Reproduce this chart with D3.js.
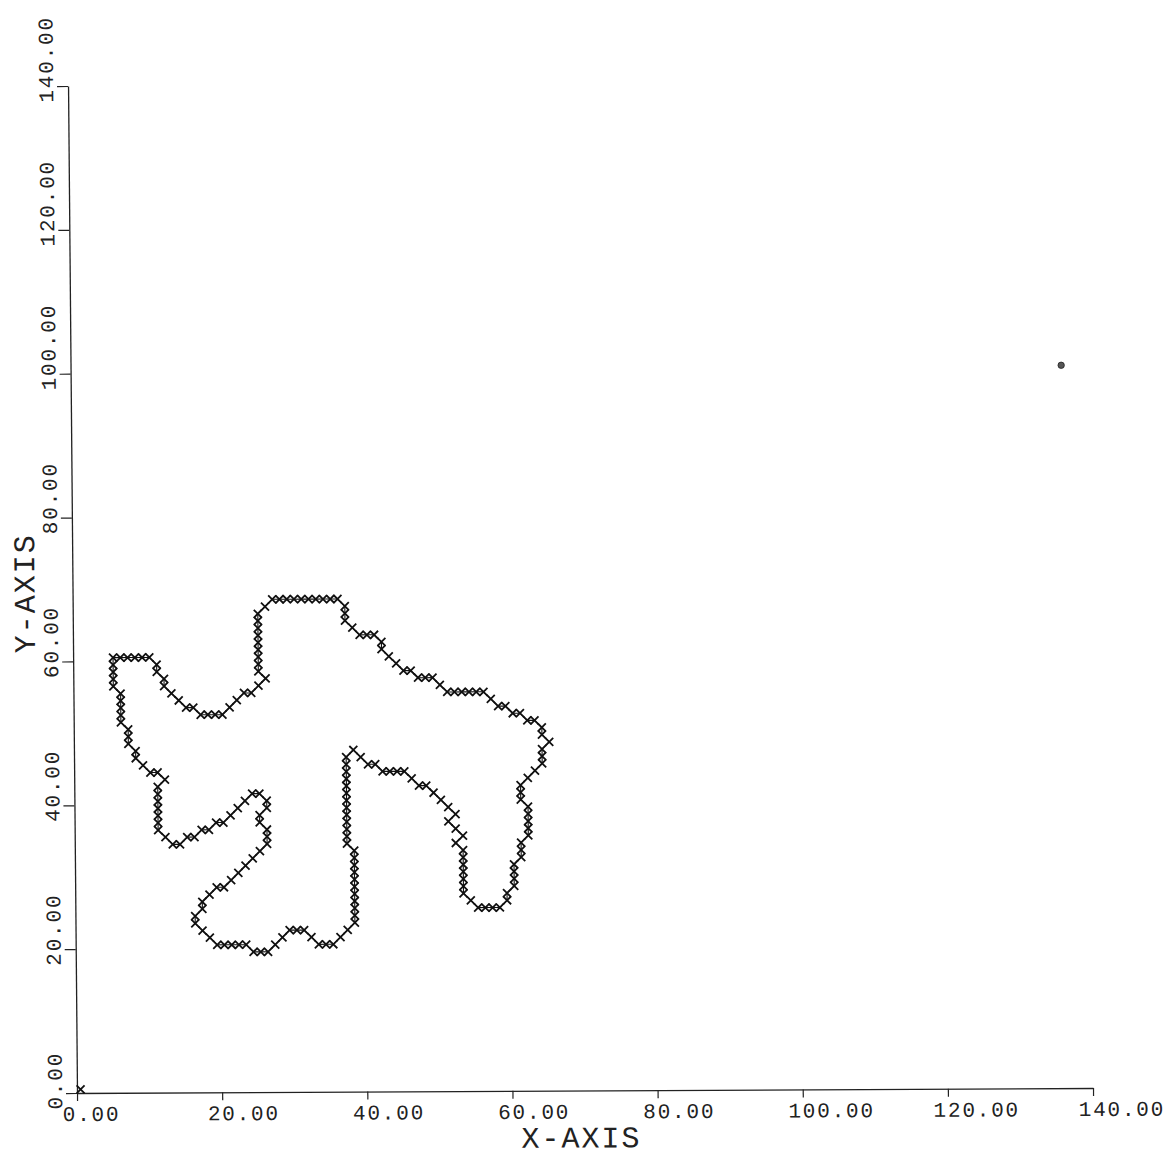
<!DOCTYPE html>
<html>
<head>
<meta charset="utf-8">
<script src="https://cdnjs.cloudflare.com/ajax/libs/d3/7.8.5/d3.min.js"></script>
<style>
  body { margin: 0; background: #fff; }
  svg { display: block; }
</style>
</head>
<body>
<div id="chart"></div>
<script>
// tick values on both axes
const xTicks = [0, 20, 40, 60, 80, 100, 120, 140];
const yTicks = [0, 20, 40, 60, 80, 100, 120, 140];

// traced boundary (cell centres), walked clockwise from the top-left ledge
const outline = [
  [5.5, 60.5], [6.5, 60.5], [7.5, 60.5], [8.5, 60.5], [9.5, 60.5], [10.5, 60.5],
  [11.5, 59.5], [11.5, 58.5], [12.5, 57.5], [12.5, 56.5], [13.5, 55.5], [14.5, 54.5],
  [15.5, 53.5], [16.5, 53.5],
  [17.5, 52.5], [18.5, 52.5], [19.5, 52.5], [20.5, 52.5],
  [21.5, 53.5], [22.5, 54.5], [23.5, 55.5], [24.5, 55.5], [25.5, 56.5], [26.5, 57.5],
  [25.5, 58.5], [25.5, 59.5], [25.5, 60.5], [25.5, 61.5], [25.5, 62.5], [25.5, 63.5],
  [25.5, 64.5], [25.5, 65.5], [25.5, 66.5],
  [26.5, 67.5],
  [27.5, 68.5], [28.5, 68.5], [29.5, 68.5], [30.5, 68.5], [31.5, 68.5], [32.5, 68.5],
  [33.5, 68.5], [34.5, 68.5], [35.5, 68.5], [36.5, 68.5],
  [37.5, 67.5], [37.5, 66.5], [37.5, 65.5], [38.5, 64.5],
  [39.5, 63.5], [40.5, 63.5], [41.5, 63.5],
  [42.5, 62.5], [42.5, 61.5], [43.5, 60.5], [44.5, 59.5], [45.5, 58.5], [46.5, 58.5],
  [47.5, 57.5], [48.5, 57.5], [49.5, 57.5], [50.5, 56.5],
  [51.5, 55.5], [52.5, 55.5], [53.5, 55.5], [54.5, 55.5], [55.5, 55.5], [56.5, 55.5],
  [57.5, 54.5], [58.5, 53.5], [59.5, 53.5], [60.5, 52.5], [61.5, 52.5], [62.5, 51.5], [63.5, 51.5],
  [64.5, 50.5], [64.5, 49.5], [65.5, 48.5], [64.5, 47.5], [64.5, 46.5], [64.5, 45.5],
  [63.5, 44.5], [62.5, 43.5], [61.5, 42.5], [61.5, 41.5], [61.5, 40.5],
  [62.5, 39.5], [62.5, 38.5], [62.5, 37.5], [62.5, 36.5], [62.5, 35.5],
  [61.5, 34.5], [61.5, 33.5], [61.5, 32.5],
  [60.5, 31.5], [60.5, 30.5], [60.5, 29.5], [60.5, 28.5],
  [59.5, 27.5], [59.5, 26.5],
  [58.5, 25.5], [57.5, 25.5], [56.5, 25.5], [55.5, 25.5],
  [54.5, 26.5],
  [53.5, 27.5], [53.5, 28.5], [53.5, 29.5], [53.5, 30.5], [53.5, 31.5], [53.5, 32.5], [53.5, 33.5],
  [52.5, 34.5], [53.5, 35.5], [52.5, 36.5], [51.5, 37.5], [52.5, 38.5], [51.5, 39.5],
  [50.5, 40.5], [49.5, 41.5], [48.5, 42.5], [47.5, 42.5], [46.5, 43.5],
  [45.5, 44.5], [44.5, 44.5], [43.5, 44.5], [42.5, 44.5],
  [41.5, 45.5], [40.5, 45.5], [39.5, 46.5], [38.5, 47.5],
  [37.5, 46.5], [37.5, 45.5], [37.5, 44.5], [37.5, 43.5], [37.5, 42.5], [37.5, 41.5],
  [37.5, 40.5], [37.5, 39.5], [37.5, 38.5], [37.5, 37.5], [37.5, 36.5], [37.5, 35.5], [37.5, 34.5],
  [38.5, 33.5], [38.5, 32.5], [38.5, 31.5], [38.5, 30.5], [38.5, 29.5], [38.5, 28.5],
  [38.5, 27.5], [38.5, 26.5], [38.5, 25.5], [38.5, 24.5], [38.5, 23.5],
  [37.5, 22.5], [36.5, 21.5], [35.5, 20.5], [34.5, 20.5], [33.5, 20.5],
  [32.5, 21.5], [31.5, 22.5], [30.5, 22.5], [29.5, 22.5], [28.5, 21.5], [27.5, 20.5],
  [26.5, 19.5], [25.5, 19.5], [24.5, 19.5],
  [23.5, 20.5], [22.5, 20.5], [21.5, 20.5], [20.5, 20.5], [19.5, 20.5],
  [18.5, 21.5], [17.5, 22.5], [16.5, 23.5], [16.5, 24.5], [17.5, 25.5], [17.5, 26.5], [18.5, 27.5],
  [19.5, 28.5], [20.5, 28.5], [21.5, 29.5], [22.5, 30.5], [23.5, 31.5], [24.5, 32.5], [25.5, 33.5],
  [26.5, 34.5], [26.5, 35.5], [26.5, 36.5], [25.5, 37.5], [25.5, 38.5], [26.5, 39.5], [26.5, 40.5],
  [25.5, 41.5], [24.5, 41.5],
  [23.5, 40.5], [22.5, 39.5], [21.5, 38.5], [20.5, 37.5], [19.5, 37.5], [18.5, 36.5],
  [17.5, 36.5], [16.5, 35.5], [15.5, 35.5], [14.5, 34.5], [13.5, 34.5],
  [12.5, 35.5],
  [11.5, 36.5], [11.5, 37.5], [11.5, 38.5], [11.5, 39.5], [11.5, 40.5], [11.5, 41.5], [11.5, 42.5],
  [12.5, 43.5], [11.5, 44.5], [10.5, 44.5], [9.5, 45.5], [8.5, 46.5], [8.5, 47.5],
  [7.5, 48.5], [7.5, 49.5], [7.5, 50.5],
  [6.5, 51.5], [6.5, 52.5], [6.5, 53.5], [6.5, 54.5], [6.5, 55.5],
  [5.5, 56.5], [5.5, 57.5], [5.5, 58.5], [5.5, 59.5]
];

// lone marks
const originMark = [[0.5, 0.5]];
const strayDot = [[136.5, 100.5]];

const width = 1170;
const height = 1157;

const svg = d3.select('#chart')
    .append('svg')
    .attr('width', width)
    .attr('height', height);

svg.append('rect').attr('width', width).attr('height', height).attr('fill', '#fff');

const x = d3.scaleLinear().domain([0, 140]).range([77, 1093]);
const y = d3.scaleLinear().domain([0, 140]).range([1093, 86]);

// the scan is slightly out of square, so shear the whole plot about the origin
const b = -0.0049, c = 0.0089;
const plot = svg.append('g')
    .attr('transform', `matrix(1,${b},${c},1,${-c * 1093},${-b * 77})`);

const fmt = d3.format('.2f');
const labelFont = "'Liberation Mono', 'DejaVu Sans Mono', monospace";

// x axis
plot.append('g')
    .attr('transform', 'translate(0,1093)')
    .call(d3.axisBottom(x).tickValues(xTicks).tickSize(8).tickSizeOuter(0).tickFormat(fmt))
    .call(g => g.select('.domain').attr('stroke', '#222').attr('stroke-width', 1.3))
    .call(g => g.selectAll('.tick line').attr('stroke', '#222').attr('stroke-width', 1.2))
    .call(g => g.selectAll('text')
        .attr('text-anchor', 'start')
        .attr('x', -15)
        .attr('y', 28)
        .attr('dy', 0)
        .attr('fill', '#222')
        .style('font-family', labelFont)
        .style('font-size', '21px')
        .style('letter-spacing', '1.8px'));

// y axis, labels turned to read upward
plot.append('g')
    .attr('transform', 'translate(77,0)')
    .call(d3.axisLeft(y).tickValues(yTicks).tickSize(11).tickSizeOuter(0).tickFormat(fmt))
    .call(g => g.select('.domain').attr('stroke', '#222').attr('stroke-width', 1.3))
    .call(g => g.selectAll('.tick line').attr('stroke', '#222').attr('stroke-width', 1.2))
    .call(g => g.selectAll('text')
        .attr('transform', 'rotate(-90)')
        .attr('text-anchor', 'start')
        .attr('x', -16)
        .attr('y', -15)
        .attr('dy', 0)
        .attr('fill', '#222')
        .style('font-family', labelFont)
        .style('font-size', '21px')
        .style('letter-spacing', '1.8px'));

// axis titles
plot.append('text')
    .attr('x', 521)
    .attr('y', 1150)
    .attr('fill', '#222')
    .style('font-family', labelFont)
    .style('font-size', '30px')
    .style('letter-spacing', '2px')
    .text('X-AXIS');

plot.append('text')
    .attr('transform', 'translate(39,653) rotate(-90)')
    .attr('fill', '#222')
    .style('font-family', labelFont)
    .style('font-size', '30px')
    .style('letter-spacing', '2px')
    .text('Y-AXIS');

// connecting line
const line = d3.line()
    .x(d => x(d[0]))
    .y(d => y(d[1]))
    .curve(d3.curveLinearClosed);

plot.append('path')
    .datum(outline)
    .attr('d', line)
    .attr('fill', 'none')
    .attr('stroke', '#111')
    .attr('stroke-width', 1.1);

// x markers at each point
const s = 4;
const crossPath = `M${-s},${-s}L${s},${s}M${-s},${s}L${s},${-s}`;

plot.selectAll('.mark')
    .data(outline.concat(originMark))
    .enter()
    .append('path')
    .attr('class', 'mark')
    .attr('transform', d => `translate(${x(d[0])},${y(d[1])})`)
    .attr('d', crossPath)
    .attr('fill', 'none')
    .attr('stroke', '#111')
    .attr('stroke-width', 1.8);

plot.selectAll('.dot')
    .data(strayDot)
    .enter()
    .append('circle')
    .attr('class', 'dot')
    .attr('cx', d => x(d[0]))
    .attr('cy', d => y(d[1]))
    .attr('r', 3.2)
    .attr('fill', '#555')
    .attr('stroke', '#222')
    .attr('stroke-width', 0.8);
</script>
</body>
</html>
